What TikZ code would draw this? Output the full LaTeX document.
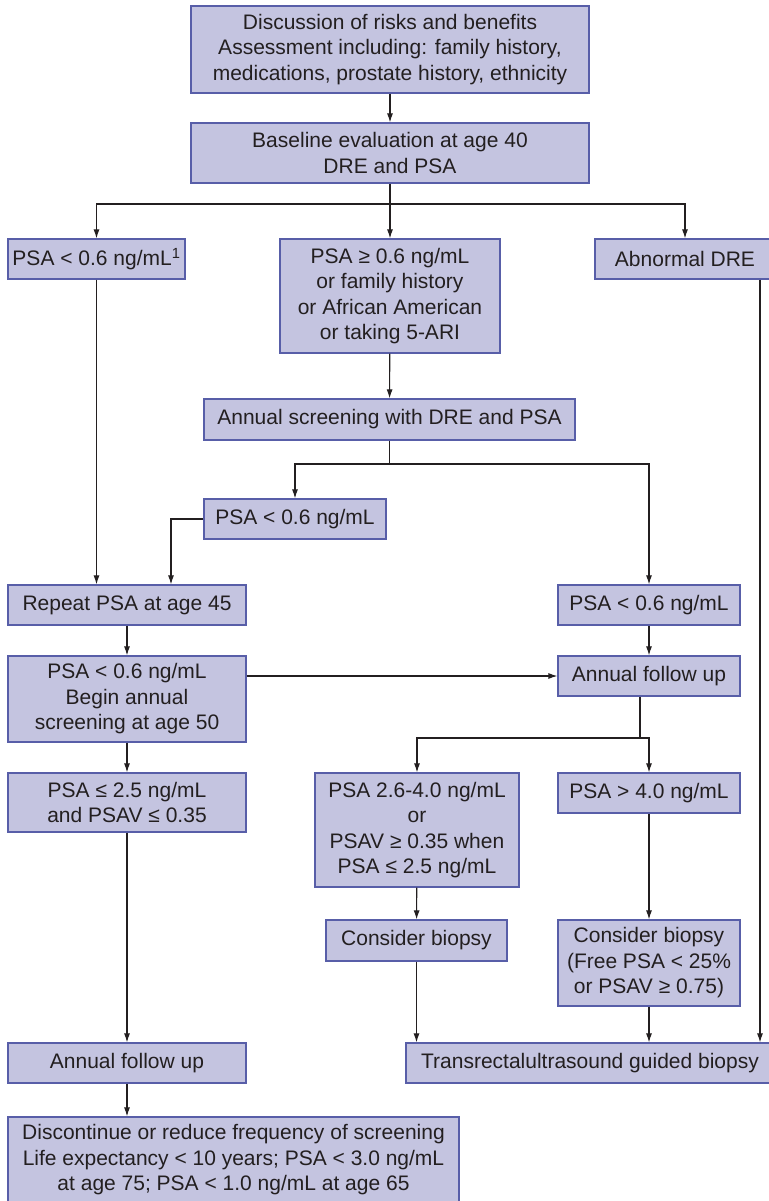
\documentclass[tikz,border=0pt]{standalone}
\usepackage{fontspec}
\setmainfont{Liberation Sans}
\usetikzlibrary{arrows.meta}
\definecolor{boxfill}{RGB}{196,196,224}
\definecolor{boxline}{RGB}{88,94,168}
\definecolor{ink}{RGB}{35,31,32}
\begin{document}
\begin{tikzpicture}[x=1pt,y=-1pt,
  box/.style={draw=boxline,fill=boxfill,line width=1.2pt,inner sep=0pt,align=center,
    text=ink,font=\fontsize{21}{25.5}\selectfont},
  arr/.style={draw=ink,line width=1.1pt,-{Latex[length=9pt,width=6pt]}},
  ln/.style={draw=ink,line width=1.1pt}]
\useasboundingbox (0,0) rectangle (768,1201);
\node[box,minimum width=398pt,minimum height=87pt] (b1) at (390,49.5)
  {Discussion of risks and benefits\\Assessment including: family history,\\medications, prostate history, ethnicity};
\node[box,minimum width=398pt,minimum height=60pt] (b2) at (390,153)
  {Baseline evaluation at age 40\\DRE and PSA};
\node[box,minimum width=177pt,minimum height=40pt] (b3a) at (96.5,259)
  {PSA < 0.6 ng/mL\textsuperscript{1}};
\node[box,minimum width=220pt,minimum height=114pt] (b3b) at (390,296)
  {PSA ≥ 0.6 ng/mL\\or family history\\or African American\\or taking 5-ARI};
\node[box,minimum width=180pt,minimum height=40pt] (b3c) at (685,259)
  {Abnormal DRE};
\node[box,minimum width=371pt,minimum height=41pt] (b4) at (389.5,419.5)
  {Annual screening with DRE and PSA};
\node[box,minimum width=182pt,minimum height=40pt] (b5) at (295,519)
  {PSA < 0.6 ng/mL};
\node[box,minimum width=238pt,minimum height=40pt] (b6) at (127,605)
  {Repeat PSA at age 45};
\node[box,minimum width=182pt,minimum height=40pt] (b7) at (649,605)
  {PSA < 0.6 ng/mL};
\node[box,minimum width=238pt,minimum height=86pt] (b8) at (127,699)
  {PSA < 0.6 ng/mL\\Begin annual\\screening at age 50};
\node[box,minimum width=182pt,minimum height=40pt] (b9) at (649,676)
  {Annual follow up};
\node[box,minimum width=238pt,minimum height=59pt] (b10) at (127,802.5)
  {PSA ≤ 2.5 ng/mL\\and PSAV ≤ 0.35};
\node[box,minimum width=204pt,minimum height=114pt] (b11) at (417,830)
  {PSA 2.6-4.0 ng/mL\\or\\PSAV ≥ 0.35 when\\PSA ≤ 2.5 ng/mL};
\node[box,minimum width=182pt,minimum height=40pt] (b12) at (649,793)
  {PSA > 4.0 ng/mL};
\node[box,minimum width=181pt,minimum height=41pt] (b13) at (416.5,940.5)
  {Consider biopsy};
\node[box,minimum width=182pt,minimum height=86pt] (b14) at (649,963)
  {Consider biopsy\\(Free PSA < 25\%\\or PSAV ≥ 0.75)};
\node[box,minimum width=238pt,minimum height=40pt] (b15) at (127,1063)
  {Annual follow up};
\node[box,minimum width=368pt,minimum height=40pt] (b16) at (590,1063)
  {Transrectalultrasound guided biopsy};
\node[box,minimum width=451pt,minimum height=86pt] (b17) at (233.5,1160)
  {Discontinue or reduce frequency of screening\\Life expectancy < 10 years; PSA < 3.0 ng/mL\\at age 75; PSA < 1.0 ng/mL at age 65};
% junctions
\coordinate (j1) at (390,204);
\coordinate (j2) at (389.5,464);
\coordinate (j3) at (640,738);
\coordinate (xl) at (171,0);
\coordinate (xr) at (760,0);
% connectors
\draw[arr] (b1) -- (b2);
\draw[ln] (b2) -- (j1);
\draw[arr] (j1) -| (b3a);
\draw[arr] (j1) -- (b3b);
\draw[arr] (j1) -| (b3c);
\draw[arr] (b3b) -- (b4);
\draw[ln] (b4) -- (j2);
\draw[arr] (j2) -| (b5);
\draw[arr] (j2) -| (b7);
\draw[arr] (b5.west) -| (xl |- b6.north);
\draw[arr] (b3a.south) -- (b3a.south |- b6.north);
\draw[arr] (b6) -- (b8);
\draw[arr] (b8.east |- b9.west) -- (b9.west);
\draw[arr] (b7) -- (b9);
\draw[ln] (b9.south -| j3) -- (j3);
\draw[arr] (j3) -| (b11);
\draw[arr] (j3) -| (b12);
\draw[arr] (b8) -- (b10);
\draw[arr] (b10) -- (b15);
\draw[arr] (b15.south) -- (b15.south |- b17.north);
\draw[arr] (b11) -- (b13);
\draw[arr] (b12) -- (b14);
\draw[arr] (b13.south) -- (b13.south |- b16.north);
\draw[arr] (b14) -- (b14 |- b16.north);
\draw[arr] (b3c.south -| xr) -- (xr |- b16.north);
\end{tikzpicture}
\end{document}
